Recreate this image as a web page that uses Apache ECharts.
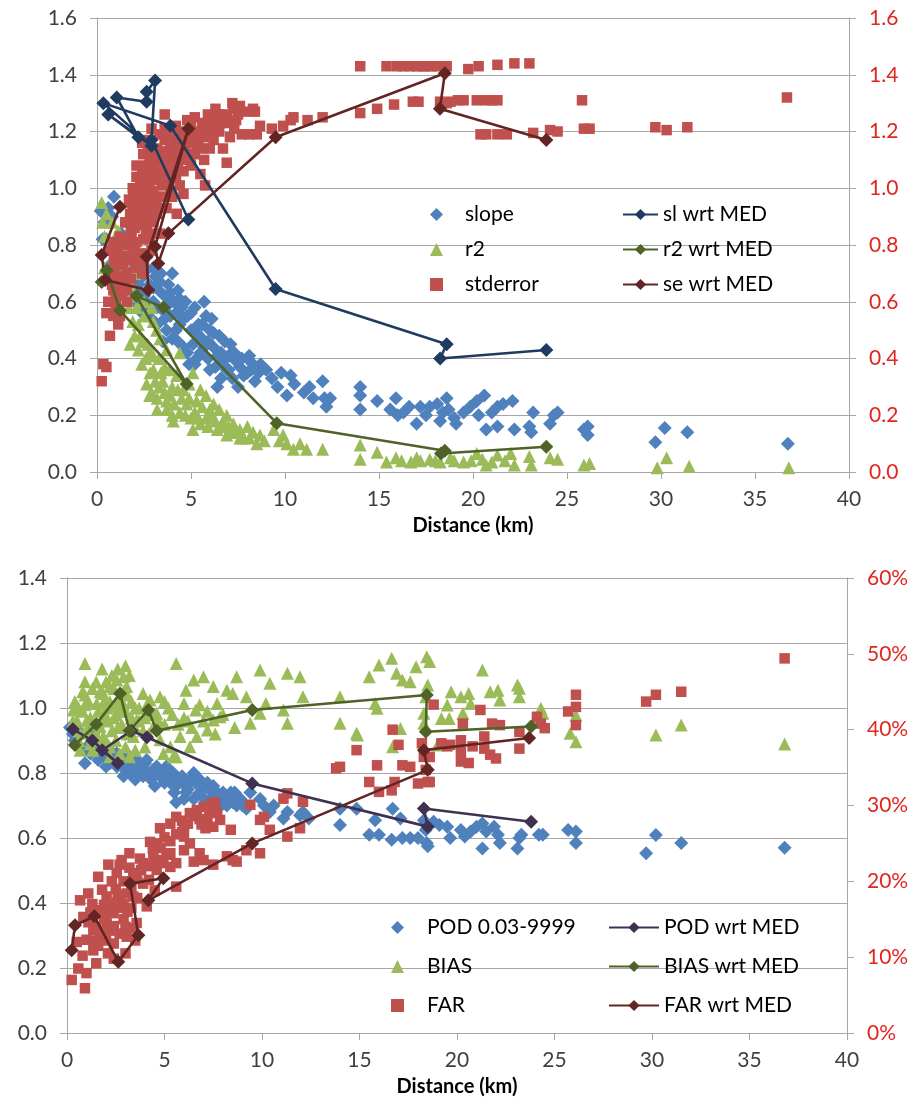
<!DOCTYPE html>
<html>
<head>
<meta charset="utf-8">
<script src="https://cdn.jsdelivr.net/npm/echarts@6/dist/echarts.min.js"></script>
<style>
  html, body { margin: 0; padding: 0; background: #fff; }
  #chart { width: 919px; height: 1104px; }
</style>
</head>
<body>
<div id="chart"></div>
<script>
// ---- top panel data: [distance km, value] ----
const slopePts = [
  [0.2,0.92],[0.4,0.88],[0.6,0.93],[0.9,0.97],[0.5,0.82],[0.8,0.79],[1.3,0.84],[1.1,0.76],[0.7,0.73],[1.5,0.74],
  [1.8,0.78],[1.2,0.70],[1.6,0.66],[1.9,0.70],[2.1,0.64],[2.3,0.68],[2.5,0.62],[2.6,0.71],[2.8,0.66],[3.0,0.60],
  [3.1,0.69],[3.3,0.64],[3.4,0.70],[3.5,0.57],[3.6,0.62],[3.8,0.66],[3.9,0.55],[4.1,0.60],[4.3,0.64],[4.5,0.58],
  [2.4,0.56],[2.9,0.54],[3.2,0.52],[3.7,0.50],[4.0,0.47],[4.4,0.52],[2.0,0.60],[2.7,0.58],[3.35,0.67],[3.5,0.46],
  [4.2,0.56],[4.8,0.55],[5.0,0.50],[5.1,0.45],[5.2,0.58],[5.4,0.52],[5.5,0.42],[5.6,0.47],[5.8,0.55],[5.9,0.40],
  [6.0,0.50],[6.2,0.44],[6.3,0.37],[6.5,0.48],[6.6,0.42],[6.8,0.46],[6.9,0.36],[7.0,0.41],[7.2,0.33],[7.4,0.39],
  [7.6,0.37],[7.8,0.34],[8.0,0.40],[8.2,0.36],[8.4,0.32],[8.7,0.38],[6.4,0.30],[7.5,0.30],[5.3,0.40],[4.6,0.44],
  [4.9,0.38],[5.7,0.60],[6.1,0.54],[7.1,0.45],[8.1,0.41],[8.6,0.35],[9.0,0.36],[9.3,0.33],[9.6,0.30],[9.8,0.35],
  [2.2,0.66],[2.6,0.60],[3.0,0.65],[3.2,0.58],[3.6,0.54],[3.9,0.63],[4.2,0.50],[4.6,0.54],[4.7,0.60],[5.0,0.56],
  [5.3,0.49],[5.6,0.52],[5.9,0.46],[6.2,0.49],[6.4,0.41],[6.7,0.39],[7.0,0.36],[7.3,0.42],[7.7,0.40],[8.0,0.35],
  [8.3,0.38],[4.3,0.46],[4.8,0.42],[5.2,0.38],[5.7,0.44],[6.0,0.36],[6.6,0.33],[3.0,0.72],[2.2,0.73],[1.7,0.70],
  [1.4,0.68],[1.0,0.73],[0.3,0.82],[0.8,0.90],[1.5,0.78],[4.0,0.70],[4.4,0.61],[3.8,0.59],
  [10.1,0.27],[10.3,0.34],[10.5,0.31],[11.0,0.28],[11.3,0.30],[11.5,0.26],[12.0,0.32],[12.1,0.26],[12.2,0.23],[12.4,0.26],
  [14.0,0.30],[14.0,0.27],[14.0,0.22],[14.9,0.25],[15.6,0.22],[15.9,0.26],[16.0,0.20],[16.3,0.21],[16.6,0.23],[17.0,0.17],
  [17.2,0.23],[17.5,0.20],[17.7,0.23],[18.1,0.24],[18.25,0.18],[18.4,0.21],[18.6,0.26],[18.7,0.22],[19.0,0.19],[19.1,0.17],
  [19.5,0.21],[19.85,0.23],[20.2,0.25],[20.3,0.20],[20.6,0.27],[20.7,0.15],[21.0,0.21],[21.3,0.16],[21.3,0.23],[21.6,0.24],
  [22.1,0.25],[22.2,0.15],[23.0,0.16],[23.1,0.14],[23.2,0.21],[24.1,0.17],[24.3,0.20],[24.5,0.21],[25.9,0.15],[26.1,0.16],
  [26.1,0.13],[29.7,0.105],[30.2,0.155],[31.4,0.14],[36.75,0.10]
];
const r2Pts = [
  [0.25,0.95],[0.5,0.91],[0.3,0.88],[1.13,0.85],[0.6,0.80],[0.9,0.76],[1.3,0.78],[0.4,0.72],[1.0,0.70],[1.5,0.72],
  [1.8,0.66],[2.0,0.62],[1.2,0.63],[1.58,0.61],[2.1,0.58],[2.9,0.58],[2.5,0.55],[1.76,0.45],[2.2,0.52],[2.38,0.38],
  [2.82,0.35],[3.17,0.50],[3.35,0.47],[3.7,0.43],[3.0,0.41],[2.64,0.31],[2.9,0.28],[3.5,0.32],[3.88,0.36],[4.4,0.42],
  [4.24,0.34],[4.6,0.29],[4.77,0.24],[5.1,0.35],[5.5,0.29],[5.8,0.27],[6.2,0.24],[6.0,0.22],[6.5,0.22],[6.9,0.20],
  [7.25,0.17],[7.6,0.15],[8.0,0.16],[8.3,0.14],[8.67,0.13],[9.4,0.15],[9.9,0.13],[10.1,0.10],[10.45,0.08],[11.15,0.08],
  [12.0,0.08],[3.7,0.22],[4.06,0.18],[5.1,0.15],[5.5,0.17],[6.4,0.15],[6.9,0.13],[3.7,0.25],[3.2,0.22],[2.7,0.45],
  [3.3,0.40],[4.0,0.30],[4.5,0.26],[5.2,0.21],[5.8,0.19],[6.3,0.18],[7.0,0.16],[7.8,0.12],[8.9,0.11],[9.7,0.11],
  [10.8,0.10],[2.3,0.48],[3.6,0.37],[4.9,0.31],[5.3,0.25],[6.7,0.18],[7.4,0.14],
  [1.4,0.66],[1.7,0.58],[1.9,0.53],[2.0,0.48],[2.2,0.43],[2.4,0.46],[2.6,0.40],[2.8,0.42],[3.0,0.36],[3.1,0.32],
  [3.3,0.30],[3.4,0.35],[3.6,0.28],[3.9,0.27],[4.1,0.24],[4.3,0.29],[4.4,0.21],[4.7,0.20],[4.9,0.26],[5.0,0.19],
  [5.4,0.19],[5.6,0.23],[5.9,0.16],[6.1,0.20],[6.6,0.16],[7.1,0.14],[7.6,0.12],[8.1,0.12],[8.5,0.10],[2.5,0.60],
  [3.0,0.53],[2.0,0.70],[1.6,0.77],[0.8,0.88],[0.4,0.83],[2.8,0.27],[3.2,0.26],[4.0,0.20],
  [14.0,0.095],[14.0,0.045],[14.9,0.07],[15.4,0.035],[15.9,0.05],[16.2,0.04],[16.7,0.035],[17.0,0.05],[17.2,0.04],[17.7,0.045],
  [18.0,0.04],[18.25,0.035],[18.8,0.05],[19.0,0.04],[19.5,0.035],[19.9,0.04],[20.2,0.065],[20.5,0.045],[20.7,0.025],[21.0,0.035],
  [21.3,0.06],[21.7,0.04],[22.0,0.065],[22.2,0.025],[23.0,0.055],[23.1,0.025],[24.1,0.05],[24.5,0.045],[25.9,0.025],[26.2,0.03],
  [29.8,0.015],[30.3,0.05],[31.5,0.02],[36.8,0.015]
];
const stderrPts = [
  [0.25,0.32],[0.34,0.38],[0.5,0.37],[0.69,0.48],[0.5,0.56],[0.87,0.55],[1.13,0.52],[1.22,0.55],[0.87,0.64],[0.7,0.69],
  [1.3,0.65],[1.58,0.64],[1.4,0.73],[0.6,0.60],[1.0,0.61],[0.9,0.72],[1.1,0.78],[0.7,0.78],[1.5,0.80],[1.2,0.83],
  [1.8,0.75],[2.0,0.80],[1.6,0.70],[2.3,0.77],[1.0,0.68],[1.4,0.66],[1.4,0.81],[1.6,0.88],[1.84,0.84],[2.1,0.81],
  [2.8,0.82],[3.35,0.84],[2.46,0.82],[0.87,0.81],[1.93,0.98],[2.64,0.96],[3.17,0.94],[3.7,0.93],[4.24,0.91],[2.3,0.93],
  [1.76,0.91],[2.1,0.89],[2.64,0.87],[2.3,1.01],[2.8,1.01],[3.44,1.01],[3.9,1.05],[4.4,1.01],[5.75,1.01],[2.0,0.86],
  [2.5,0.91],[3.0,0.88],[2.2,0.96],[1.9,0.93],[3.3,0.97],[3.0,0.99],[2.6,0.99],[1.5,0.88],[2.9,0.95],
  [1.7,0.82],[1.9,0.79],[2.2,0.74],[2.4,0.70],[1.3,0.62],[1.0,0.58],[0.8,0.66],[1.6,0.60],[2.6,0.77],[0.6,0.71],
  [1.2,0.75],[1.8,0.68],[2.0,0.72],
  [1.7,0.96],[1.9,1.00],[2.1,1.04],[2.4,1.06],[2.6,1.08],[2.7,1.13],[3.0,1.12],[3.2,1.14],[3.3,1.10],[3.5,1.13],
  [3.6,1.17],[3.8,1.19],[4.1,1.18],[4.2,1.22],[4.5,1.20],[4.8,1.24],[5.1,1.19],[5.2,1.25],[5.6,1.23],[5.9,1.26],
  [6.1,1.19],[6.3,1.28],[6.6,1.23],[6.9,1.25],[7.2,1.30],[7.5,1.26],[7.9,1.27],[8.4,1.27],[2.2,0.99],[2.5,1.03],
  [2.75,1.05],[3.1,1.03],[3.5,1.06],[3.8,1.02],[4.0,0.97],[4.6,1.06],[4.1,1.14],[3.2,0.91],[3.6,0.97],[2.4,0.88],
  [2.8,0.90],
  [2.5,0.95],[2.7,0.93],[2.9,1.03],[3.1,0.97],[3.3,1.06],[3.5,1.02],[3.4,0.93],[3.6,1.08],[3.8,1.12],[3.9,0.99],
  [4.0,1.08],[4.2,1.04],[4.3,1.16],[4.5,1.10],[4.6,0.98],[4.7,1.13],[4.9,1.18],[5.0,1.08],[5.2,1.12],[5.4,1.17],
  [5.6,1.14],[5.9,1.21],[6.2,1.17],[6.5,1.26],[2.0,0.91],[2.2,0.87],[1.8,0.86],[2.6,0.85],[3.0,0.84],[2.9,0.78],
  [2.5,0.74],[1.6,0.76],[1.2,0.69],[0.9,0.75],[1.8,0.95],[2.1,1.08],[2.4,1.16],[2.7,1.17],[3.3,1.19],[3.6,1.21],
  [2.46,1.12],[2.8,1.10],[3.1,1.08],[3.35,1.05],[3.9,1.15],[4.06,1.11],[4.4,1.14],[4.77,1.16],[4.6,1.19],[4.95,1.11],
  [5.3,1.15],[5.5,1.05],[5.7,1.10],[5.8,1.18],[6.0,1.14],[6.2,1.25],[6.4,1.22],[6.7,1.26],[6.7,1.14],[6.9,1.09],
  [7.07,1.18],[7.25,1.28],[7.4,1.24],[7.6,1.29],[7.7,1.19],[8.3,1.28],[8.67,1.22],[8.1,1.19],[8.5,1.19],[9.3,1.21],
  [9.9,1.22],[10.3,1.24],[10.45,1.25],[11.2,1.24],[12.0,1.25],[3.6,1.26],[2.9,1.21],[5.0,1.22],[5.5,1.20],[6.0,1.23],
  [6.5,1.20],[7.0,1.23],[7.3,1.21],[4.3,1.07],[3.7,1.10],
  [14.0,1.43],[15.4,1.43],[15.95,1.43],[16.3,1.43],[16.65,1.43],[17.0,1.43],[17.3,1.43],[17.5,1.43],[17.8,1.43],[18.1,1.43],
  [18.6,1.43],[19.75,1.42],[20.3,1.43],[21.3,1.435],[22.2,1.44],[23.0,1.44],
  [14.0,1.265],[14.9,1.28],[15.8,1.295],[16.8,1.305],[17.1,1.305],[18.25,1.305],[18.6,1.30],[18.8,1.305],[19.2,1.31],[19.5,1.31],
  [20.2,1.31],[20.7,1.31],[21.0,1.31],[21.3,1.31],[18.3,1.29],[25.8,1.31],
  [20.4,1.19],[20.7,1.19],[21.3,1.19],[21.8,1.19],[23.2,1.195],[24.1,1.205],[24.5,1.20],[25.9,1.21],[26.2,1.21],
  [29.7,1.215],[30.3,1.205],[31.4,1.215],[36.7,1.32]
];
const slMed = [
  [4.86,0.89],[2.9,1.17],[3.09,1.38],[2.64,1.34],[2.64,1.305],[1.05,1.32],[2.2,1.18],[0.6,1.26],
  [2.9,1.15],[0.34,1.30],[3.9,1.22],[9.5,0.645],[18.6,0.45],[18.25,0.40],[23.9,0.43]
];
const r2Med = [
  [0.25,0.67],[0.52,0.71],[1.22,0.57],[4.77,0.31],[2.1,0.62],[3.53,0.58],[9.56,0.172],[18.5,0.075],[18.3,0.065],[23.9,0.089]
];
const seMed = [
  [1.22,0.935],[0.25,0.765],[0.43,0.677],[2.73,0.641],[2.64,0.759],[4.86,1.21],[3.09,0.794],[3.26,0.735],
  [3.8,0.841],[9.5,1.18],[18.5,1.405],[18.24,1.28],[23.9,1.17]
];

// ---- bottom panel data: POD / BIAS on left axis, FAR in % on right axis ----
const podPts = [
  [0.15,0.94],[0.58,0.93],[0.92,0.83],[1.35,0.92],[1.7,0.88],[2.2,0.83],[2.55,0.82],[3.06,0.81],[3.4,0.80],[3.74,0.82],
  [4.09,0.84],[4.43,0.81],[4.77,0.79],[5.1,0.82],[5.45,0.80],[5.8,0.78],[6.1,0.76],[6.5,0.80],[6.8,0.78],[7.2,0.77],
  [7.5,0.76],[7.7,0.74],[8.0,0.72],[8.4,0.74],[8.5,0.71],[8.7,0.70],[5.6,0.71],[6.1,0.74],[6.5,0.72],[9.4,0.74],
  [9.9,0.72],[10.1,0.70],[10.4,0.68],[11.3,0.68],[11.95,0.67],[12.1,0.68],[14.0,0.69],[14.0,0.64],[14.85,0.69],[3.06,0.86],
  [2.55,0.86],[3.6,0.84],[2.2,0.87],[0.4,0.90],[1.0,0.88],[1.9,0.85],[2.8,0.84],[3.2,0.83],[4.2,0.80],[4.6,0.82],
  [5.0,0.79],[5.3,0.77],[6.3,0.78],[7.0,0.75],[7.9,0.70],[8.9,0.72],[9.2,0.69],[10.6,0.70],[11.1,0.66],[12.4,0.66],
  [1.2,0.95],[2.0,0.82],[3.9,0.79],[4.0,0.83],[6.8,0.74],[7.4,0.72],[8.2,0.70],[0.6,0.88],
  [2.0,0.86],[2.4,0.84],[2.8,0.82],[3.2,0.80],[3.6,0.81],[4.0,0.80],[4.3,0.78],[4.7,0.81],[5.0,0.77],[5.3,0.80],
  [5.6,0.76],[5.9,0.79],[6.2,0.75],[6.6,0.77],[6.9,0.73],[7.3,0.75],[7.6,0.71],[8.0,0.74],[8.3,0.72],[8.6,0.74],
  [5.5,0.74],[6.0,0.72],[4.5,0.76],[3.5,0.78],[7.1,0.71],[2.9,0.79],[1.6,0.84],[1.2,0.86],[0.3,0.92],[9.0,0.70],
  [15.5,0.61],[15.8,0.655],[16.0,0.61],[16.65,0.595],[16.7,0.69],[17.1,0.66],[17.2,0.60],[17.6,0.60],[18.0,0.60],[18.3,0.655],
  [18.4,0.625],[18.45,0.585],[18.5,0.575],[18.8,0.65],[19.1,0.64],[19.5,0.635],[19.65,0.60],[20.2,0.625],[20.4,0.605],[20.7,0.62],
  [21.0,0.635],[21.3,0.645],[21.3,0.568],[21.5,0.62],[21.9,0.635],[22.1,0.61],[22.2,0.585],[23.1,0.568],[23.2,0.60],[23.3,0.61],
  [24.2,0.61],[24.4,0.61],[25.7,0.625],[26.1,0.62],[26.1,0.585],[29.7,0.553],[30.2,0.609],[31.5,0.585],[36.8,0.57]
];
const biasPts = [
  [0.92,1.137],[0.92,1.081],[0.92,1.04],[0.92,1.01],[0.32,0.994],[0.5,0.963],[0.84,0.922],[1.18,0.89],[0.67,0.87],[1.52,1.014],
  [1.86,1.045],[2.2,1.066],[2.55,1.086],[2.9,1.096],[3.2,1.10],[3.06,1.066],[2.7,1.035],[2.38,1.004],[2.03,0.973],[1.7,0.943],
  [1.86,0.912],[2.2,0.881],[2.7,0.86],[3.2,0.85],[3.4,0.912],[3.57,0.963],[3.9,1.045],[4.26,1.025],[4.77,1.035],[4.6,0.984],
  [4.43,0.943],[4.77,0.902],[4.95,0.86],[5.45,0.85],[5.6,1.137],[6.0,1.014],[6.1,1.055],[6.5,1.086],[6.6,0.994],[7.0,1.096],
  [7.5,1.066],[7.7,1.014],[8.2,1.055],[8.5,1.045],[8.7,1.096],[9.2,1.035],[9.4,0.953],[9.9,1.117],[9.9,0.984],[10.4,1.076],
  [10.2,1.014],[11.3,1.107],[11.3,0.953],[11.1,0.994],[11.95,1.096],[12.1,1.035],[14.0,1.035],[14.0,0.953],[14.85,0.922],[5.8,0.912],
  [5.6,0.85],[6.3,0.881],[7.2,0.932],[7.5,0.963],[7.85,0.973],[5.3,0.881],[6.66,0.912],
  [1.2,0.97],[1.4,0.95],[1.6,0.99],[1.9,1.02],[2.1,0.96],[2.3,0.93],[2.5,0.98],[2.6,1.02],[2.8,0.95],[3.0,0.99],
  [3.3,1.02],[3.5,0.94],[3.7,1.00],[4.0,0.97],[4.2,0.92],[1.0,0.96],[0.6,0.93],[1.3,0.91],[2.9,1.05],[3.1,0.92],
  [2.0,1.08],[2.4,1.06],[0.3,0.96],[0.8,0.99],[1.6,0.90],[4.0,0.88],[5.0,0.95],[5.2,1.00],[6.2,0.96],[7.0,0.96],
  [8.0,0.98],[8.6,0.94],
  [0.4,1.02],[0.6,1.00],[0.8,1.05],[1.1,1.02],[1.3,1.06],[1.5,1.08],[1.7,1.05],[1.8,0.97],[2.0,1.00],[2.2,1.02],
  [2.4,0.97],[2.6,0.94],[2.7,0.99],[2.9,1.01],[3.1,1.04],[3.3,0.97],[3.5,1.00],[3.7,0.96],[3.9,0.93],[4.1,1.01],
  [4.4,0.98],[4.7,0.96],[5.0,1.02],[5.4,0.98],[5.7,0.95],[6.0,0.97],[6.4,0.94],[6.8,1.01],[7.2,0.99],[7.6,0.92],
  [1.0,0.93],[1.5,0.92],[2.0,0.90],[2.5,0.90],[3.0,0.88],[3.5,0.87],[1.3,0.87],[2.2,0.85],[0.6,0.90],[1.8,1.12],
  [2.6,1.12],[3.0,1.13],[2.3,1.10],
  [14.9,0.917],[15.5,1.096],[16.0,1.132],[16.65,1.153],[16.9,1.107],[17.2,1.086],[17.6,1.081],[17.9,1.127],[18.45,1.158],[18.6,1.143],
  [18.5,1.071],[18.4,1.035],[18.3,0.984],[18.3,0.953],[15.8,1.014],[15.9,0.999],[17.1,0.937],[16.7,0.881],[19.0,0.886],[19.2,0.968],
  [19.5,1.009],[19.7,1.05],[20.2,1.035],[20.6,1.045],[20.3,0.984],[20.7,1.014],[21.3,1.117],[21.7,1.05],[22.1,1.055],[22.2,1.025],
  [23.1,1.071],[23.2,1.061],[23.2,1.035],[24.3,0.999],[24.4,0.984],[24.0,0.963],[25.8,0.922],[26.1,0.896],[26.1,0.978],[19.6,0.968],
  [30.2,0.917],[31.5,0.948],[36.8,0.889]
];
const farPts = [
  [0.24,7.0],[0.92,5.9],[0.58,8.5],[1.0,7.9],[0.67,17.5],[1.09,18.4],[0.84,15.3],[1.35,13.6],[1.0,12.3],[1.35,10.9],
  [1.6,20.6],[2.12,22.2],[2.55,21.1],[2.03,18.0],[1.7,16.2],[2.03,14.5],[2.38,15.8],[2.7,17.5],[3.06,18.4],[3.2,23.7],
  [3.74,23.0],[3.4,21.1],[3.9,19.7],[4.09,16.7],[3.57,14.5],[3.06,12.7],[2.7,13.1],[4.6,21.5],[4.94,22.4],[5.1,23.5],
  [4.43,23.3],[4.6,25.0],[5.3,21.9],[5.6,19.3],[6.0,24.1],[6.5,22.6],[7.0,22.8],[7.5,22.2],[8.2,23.3],[8.5,22.8],
  [8.7,22.6],[9.9,23.7],[1.5,14.0],[1.8,12.5],[2.2,13.5],[2.4,11.8],[2.9,15.0],[3.3,16.5],[3.6,17.8],[1.2,15.9],
  [1.9,16.9],[2.5,19.0],[2.9,20.0],[3.3,19.2],[0.5,12.0],[0.8,10.2],[2.1,10.5],[1.6,11.5],[3.8,21.5],[4.2,20.2],
  [4.5,18.8],[2.8,22.8],[2.3,17.2],[3.0,14.0],[3.5,12.2],[1.3,17.0],
  [1.1,14.6],[1.4,12.2],[1.7,13.4],[1.9,15.2],[2.2,16.3],[2.4,14.1],[2.6,16.5],[2.9,17.0],[3.1,16.0],[3.4,18.0],
  [3.6,20.3],[3.9,22.4],[4.2,22.0],[4.5,22.8],[4.8,24.4],[5.0,25.8],[5.3,25.3],[5.6,26.2],[5.9,28.0],[6.2,27.6],
  [6.5,28.6],[6.8,28.2],[7.1,27.0],[7.4,30.2],[1.8,18.9],[2.3,20.0],[2.6,18.2],[3.2,21.8],[2.0,12.2],[1.5,9.2],
  [3.4,13.8],[3.0,10.5],[2.4,9.8],
  [2.7,22.2],[4.26,25.2],[4.77,27.0],[5.3,27.6],[5.6,28.5],[6.0,27.2],[6.3,29.0],[6.66,29.4],[7.0,29.8],[7.3,29.4],
  [7.7,29.0],[7.2,28.1],[7.5,27.2],[7.85,28.1],[8.4,26.8],[6.0,25.9],[6.3,25.0],[6.8,23.7],[5.3,23.7],[5.6,22.4],
  [4.77,22.8],[9.4,30.1],[9.9,28.1],[10.1,28.5],[10.4,26.8],[11.3,31.6],[11.1,30.9],[12.1,30.5],[11.3,25.9],[11.95,27.0],
  [13.8,34.9],[14.0,35.1],[14.85,37.3],[9.2,24.1],[5.9,26.5],[6.9,27.5],[7.6,30.4],[4.4,24.3],
  [15.5,33.1],[15.9,35.3],[16.0,31.8],[16.65,32.0],[16.8,33.1],[16.7,40.0],[17.0,38.0],[17.2,35.3],[17.6,35.1],[18.0,32.9],
  [18.2,38.2],[18.3,36.4],[18.4,34.7],[18.5,33.1],[18.6,33.1],[18.6,36.4],[18.8,43.3],[19.2,38.2],[19.5,37.8],[19.65,38.0],
  [20.2,38.6],[20.2,37.1],[20.2,35.8],[20.6,35.6],[20.3,40.8],[20.8,37.8],[21.2,42.6],[21.4,39.1],[21.4,37.5],[21.7,36.7],
  [21.8,40.8],[22.2,40.6],[22.0,36.2],[23.2,39.7],[23.2,37.5],[24.1,41.7],[24.3,40.8],[24.5,40.2],[25.7,42.4],[26.1,44.6],
  [26.1,43.0],[26.1,40.6],[29.7,43.7],[30.2,44.6],[31.5,45.0],[36.8,49.4]
];
const podMed = [
  [0.3,0.935],[1.3,0.90],[2.6,0.83],[1.8,0.87],[3.3,0.93],[4.1,0.91],[9.5,0.768],[18.5,0.635],[18.3,0.691],[23.8,0.65]
];
const biasMed = [
  [0.4,0.886],[1.5,0.95],[2.72,1.045],[3.2,0.93],[4.17,0.994],[4.6,0.93],[9.5,0.994],[18.45,1.04],[18.4,0.927],[23.8,0.943]
];
const farMed = [
  [0.24,10.9],[0.41,14.2],[1.4,15.4],[2.63,9.4],[3.66,12.9],[3.23,19.7],[4.94,20.4],[4.17,17.5],
  [9.5,25.0],[18.5,34.7],[18.3,37.3],[23.7,38.9]
];

const FONT = 'Lato, "Liberation Sans", sans-serif';
const GRID_GRAY = '#A6A6A6';
const AXIS_RED = '#E0261F';

function xAxisCfg(gridIndex, nameGap) {
  return {
    type: 'value', gridIndex, min: 0, max: 40, interval: 5,
    name: 'Distance (km)', nameLocation: 'middle', nameGap,
    nameTextStyle: { fontFamily: FONT, fontSize: 20, fontWeight: 'bold', color: '#000' },
    axisLine: { lineStyle: { color: GRID_GRAY } },
    axisTick: { show: true, inside: false, length: 7, lineStyle: { color: GRID_GRAY } },
    axisLabel: { fontFamily: FONT, fontSize: 21, color: '#404040', margin: 17 },
    splitLine: { show: false }
  };
}
function yAxisCfg(gridIndex, max, pos, color, grid, fmt) {
  return {
    type: 'value', gridIndex, position: pos, min: 0, max, interval: max === 60 ? 10 : 0.2,
    axisLine: { show: true, lineStyle: { color: GRID_GRAY } },
    axisTick: { show: true, inside: false, length: 7, lineStyle: { color: GRID_GRAY } },
    axisLabel: { fontFamily: FONT, fontSize: 21, color, margin: 20, formatter: fmt },
    splitLine: { show: grid, lineStyle: { color: GRID_GRAY, width: 1 } }
  };
}
const oneDec = (v) => v.toFixed(1);

function dots(name, data, x, y, symbol, size, color) {
  return { name, type: 'scatter', data, xAxisIndex: x, yAxisIndex: y, symbol, symbolSize: size,
           itemStyle: { color, opacity: 1 }, emphasis: { disabled: true } };
}
function medLine(name, data, x, y, color) {
  return { name, type: 'line', data, xAxisIndex: x, yAxisIndex: y, symbol: 'diamond', symbolSize: 14,
           showAllSymbol: true, lineStyle: { color, width: 2.6 }, itemStyle: { color },
           emphasis: { disabled: true } };
}
function legendCfg(data, left, top, gap, itemWidth, itemHeight, textPad) {
  return {
    data, orient: 'vertical', left, top, itemGap: gap, itemWidth, itemHeight, padding: 0,
    textStyle: { fontFamily: FONT, fontSize: 21, color: '#000', padding: [0, 0, 0, textPad] },
    selectedMode: false
  };
}

const chart = echarts.init(document.getElementById('chart'));
chart.setOption({
  animation: false,
  backgroundColor: '#fff',
  grid: [
    { left: 97, right: 70, top: 18, height: 454 },
    { left: 67, right: 72, top: 578, height: 455 }
  ],
  xAxis: [xAxisCfg(0, 44), xAxisCfg(1, 44)],
  yAxis: [
    yAxisCfg(0, 1.6, 'left', '#404040', true, oneDec),
    yAxisCfg(0, 1.6, 'right', AXIS_RED, false, oneDec),
    yAxisCfg(1, 1.4, 'left', '#404040', true, oneDec),
    yAxisCfg(1, 60, 'right', AXIS_RED, false, '{value}%')
  ],
  legend: [
    legendCfg(['slope', 'r2', 'stderror'], 430, 204, 14, 13, 13, 17),
    legendCfg(['sl wrt MED', 'r2 wrt MED', 'se wrt MED'], 622, 204, 14, 35, 14, 0),
    legendCfg(['POD 0.03-9999', 'BIAS', 'FAR'], 391, 917, 18, 13, 13, 18),
    legendCfg(['POD wrt MED', 'BIAS wrt MED', 'FAR wrt MED'], 608, 917, 18, 50, 14, 0)
  ],
  series: [
    dots('slope', slopePts, 0, 0, 'diamond', 14, '#4F81BD'),
    dots('r2', r2Pts, 0, 0, 'triangle', 13, '#9BBB59'),
    medLine('sl wrt MED', slMed, 0, 0, '#1F3B60'),
    medLine('r2 wrt MED', r2Med, 0, 0, '#4F6228'),
    dots('stderror', stderrPts, 0, 1, 'rect', 10.5, '#C0504D'),
    medLine('se wrt MED', seMed, 0, 1, '#632523'),

    dots('POD 0.03-9999', podPts, 1, 2, 'diamond', 14, '#4F81BD'),
    dots('BIAS', biasPts, 1, 2, 'triangle', 13, '#9BBB59'),
    medLine('POD wrt MED', podMed, 1, 2, '#403152'),
    medLine('BIAS wrt MED', biasMed, 1, 2, '#4F6228'),
    dots('FAR', farPts, 1, 3, 'rect', 10.5, '#C0504D'),
    medLine('FAR wrt MED', farMed, 1, 3, '#632523')
  ]
});
</script>
</body>
</html>
